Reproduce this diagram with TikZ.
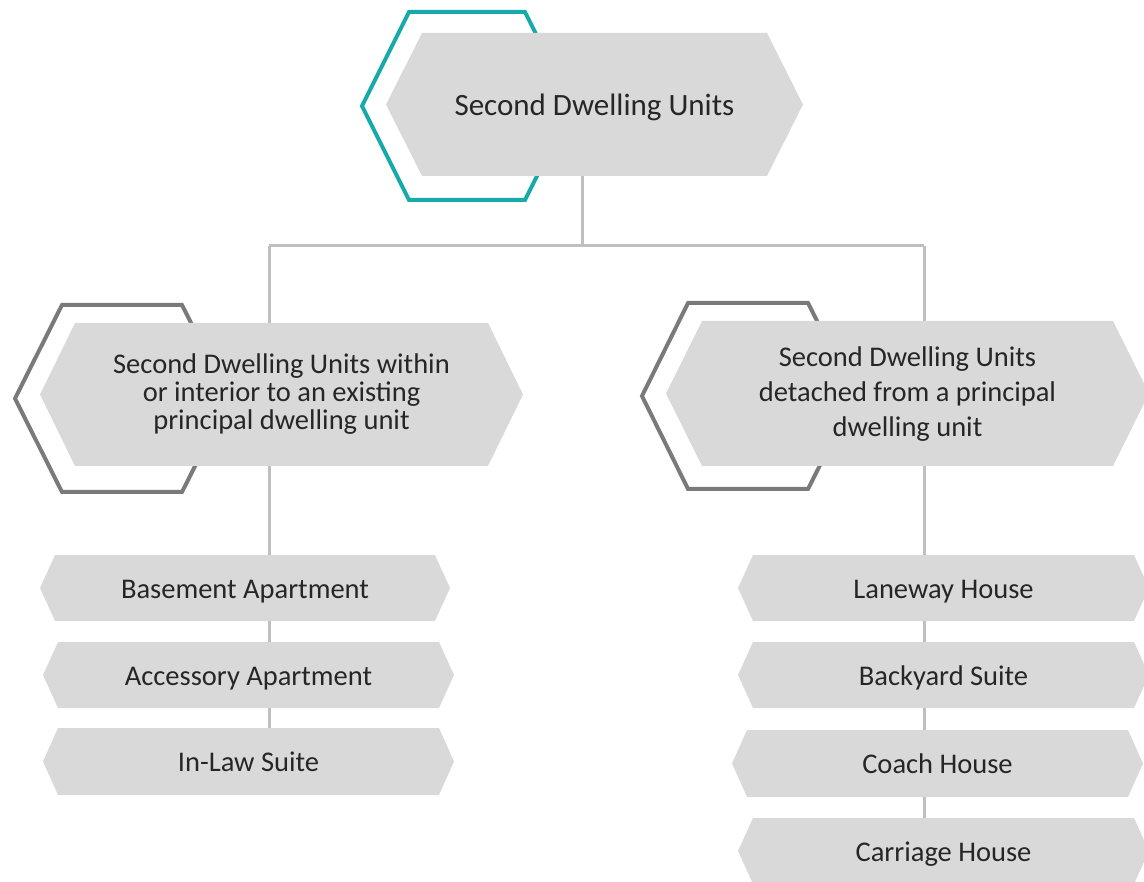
\documentclass[tikz,border=0pt]{standalone}
\usepackage{fontspec}
\setmainfont{Carlito}
\pgfdeclarelayer{bg}
\pgfdeclarelayer{mid}
\pgfsetlayers{bg,mid,main}
\definecolor{hexgray}{HTML}{D9D9D9}
\definecolor{linegray}{HTML}{BFBFBF}
\definecolor{outgray}{HTML}{7A7A7A}
\definecolor{tealc}{RGB}{22,170,170}
\definecolor{txt}{HTML}{262626}
\tikzset{
  box/.style={inner sep=0pt, outer sep=0pt, align=center, text=txt,
    font=\fontsize{28.5}{35}\selectfont},
  oneline/.style={text height=#1, text depth=0pt},
  conn/.style={draw=linegray, line width=3pt},
  outl/.style={draw=#1, line width=4pt, line join=miter},
}
\newcommand\hexfill[2]{%
  \begin{pgfonlayer}{mid}
  \fill[hexgray] (#1.west) -- ([xshift=#2]#1.north west) -- ([xshift=-#2]#1.north east)
    -- (#1.east) -- ([xshift=-#2]#1.south east) -- ([xshift=#2]#1.south west) -- cycle;
  \end{pgfonlayer}}
\begin{document}
\begin{tikzpicture}[x=1pt,y=-1pt]
\useasboundingbox (0,0) rectangle (1144,882);

% nodes
\node[box, oneline=23pt, minimum width=417, minimum height=143, font=\fontsize{31}{38}\selectfont]
  (top) at (594.5,104.5) {Second Dwelling Units};
\node[box, minimum width=483, minimum height=143, font=\fontsize{28.5}{28}\selectfont]
  (lmid) at (281.5,394.5) {Second Dwelling Units within\\or interior to an existing\\principal dwelling unit};
\node[box, minimum width=483, minimum height=145, text depth=3pt]
  (rmid) at (907.5,393.5) {Second Dwelling Units\\detached from a principal\\dwelling unit};

\node[box, oneline=20pt, minimum width=410, minimum height=66] (basement) at (245,588) {Basement Apartment};
\node[box, oneline=20pt, minimum width=411, minimum height=66] (accessory) at (248.5,675) {Accessory Apartment};
\node[box, oneline=20pt, minimum width=411, minimum height=67] (inlaw) at (248.5,761.5) {In-Law Suite};

\node[box, oneline=20pt, minimum width=411, minimum height=66] (laneway) at (943.5,588) {Laneway House};
\node[box, oneline=20pt, minimum width=411, minimum height=66] (backyard) at (943.5,675) {Backyard Suite};
\node[box, oneline=20pt, minimum width=411, minimum height=67] (coach) at (937.5,763.5) {Coach House};
\node[box, oneline=20pt, minimum width=411, minimum height=66] (carriage) at (943.5,851) {Carriage House};

% gray hexagon fills
\hexfill{top}{36}
\hexfill{lmid}{35}
\hexfill{rmid}{36}
\hexfill{basement}{15}
\hexfill{accessory}{15}
\hexfill{inlaw}{15}
\hexfill{laneway}{15}
\hexfill{backyard}{15}
\hexfill{coach}{15}
\hexfill{carriage}{15}

\begin{pgfonlayer}{bg}
% junctions
\coordinate (jT) at (582.5,246);
\coordinate (jL) at (269,246);
\coordinate (jR) at (924,246);
% connectors
\draw[conn] (top.south -| jT) -- (jT);
\draw[conn] (jL) -- (jR);
\draw[conn] (jL) -- (lmid.north -| jL);
\draw[conn] (jR) -- (rmid.north -| jR);
\draw[conn] (lmid.south -| jL) -- (inlaw.south -| jL);
\draw[conn] (rmid.south -| jR) -- (carriage.south -| jR);
% outline hexagons
\draw[outl=tealc] (362,106) -- (409,12) -- (525,12) -- (572,106) -- (525,200) -- (409,200) -- cycle;
\draw[outl=outgray] (15,398.5) -- (62,305) -- (182,305) -- (229,398.5) -- (182,492) -- (62,492) -- cycle;
\draw[outl=outgray] (642,396) -- (688,303) -- (808,303) -- (855,396) -- (808,489) -- (688,489) -- cycle;
\end{pgfonlayer}
\end{tikzpicture}
\end{document}
